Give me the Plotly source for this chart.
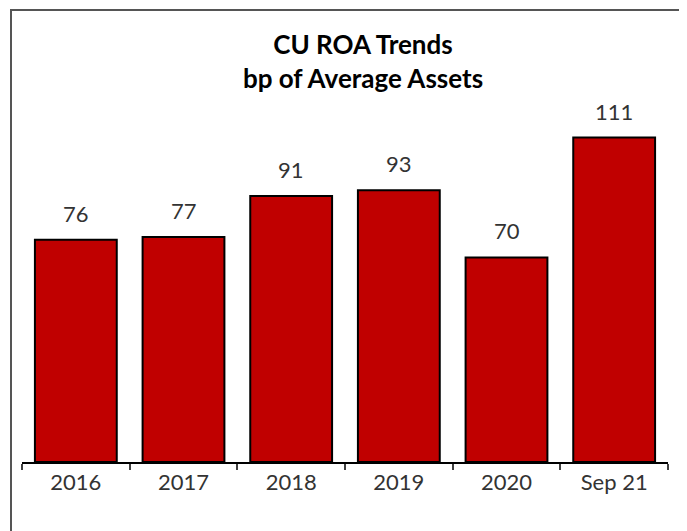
import plotly.graph_objects as go

categories = ["2016", "2017", "2018", "2019", "2020", "Sep 21"]
roa_bp = [76, 77, 91, 93, 70, 111]

# page body has an 8px margin, so the figure is drawn a bit smaller
W, H = 679, 523

fig = go.Figure()
fig.add_trace(go.Bar(
    x=categories,
    y=roa_bp,
    marker=dict(color="#C00000", line=dict(color="black", width=2)),
))

# value labels above the bars (x as category index)
for i, v in enumerate(roa_bp):
    fig.add_annotation(
        x=i, y=v, text=str(v), showarrow=False,
        yanchor="bottom", yshift=11,
        font=dict(family="Lato", size=22, color="#333333"),
    )

fig.update_layout(
    width=W, height=H,
    margin=dict(l=14, r=19, t=74, b=69),
    paper_bgcolor="white",
    plot_bgcolor="white",
    bargap=0.24,
    showlegend=False,
    title=dict(
        text="<b>CU ROA Trends<br>bp of Average Assets</b>",
        x=355 / W, xanchor="center",
        y=1 - 46 / H, yanchor="top",
        font=dict(family="Lato", size=26, color="black"),
    ),
    xaxis=dict(
        type="category",
        range=[-0.5, 5.5],
        showline=True, linecolor="black", linewidth=1.5,
        ticks="outside", tickson="boundaries", ticklen=6,
        tickcolor="#404040", tickwidth=1.5,
        tickfont=dict(family="Lato", size=22, color="#333333"),
        showgrid=False,
    ),
    yaxis=dict(range=[0, 130], visible=False),
)

# outer chart frame (bottom edge sits below the window)
fig.add_shape(
    type="rect", xref="paper", yref="paper",
    x0=-11 / 646, x1=661 / 646, y0=-0.3, y1=452 / 380,
    line=dict(color="#555555", width=2),
)

fig.write_html("out.html")
